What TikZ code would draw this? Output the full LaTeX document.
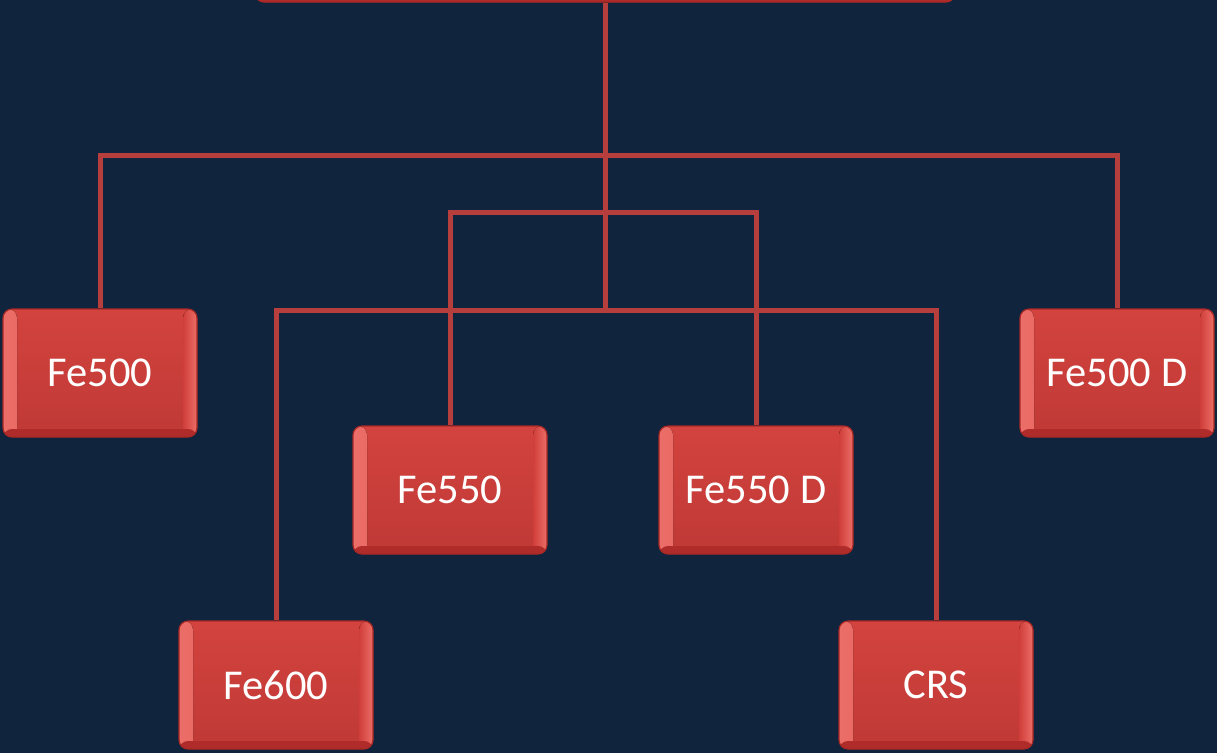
\documentclass[tikz,border=0pt]{standalone}
\usepackage{fontspec}
\setmainfont{Carlito}
\usetikzlibrary{positioning}
\definecolor{navy}{RGB}{17,36,62}
\definecolor{boxred}{RGB}{208,62,58}
\definecolor{boxlight}{RGB}{236,110,104}
\definecolor{boxdark}{RGB}{168,40,38}
\definecolor{linkred}{RGB}{182,62,60}

\begin{document}
\begin{tikzpicture}[x=1pt, y=-1pt,
  grade/.style = {draw=boxdark, line width=1.2pt, rounded corners=9pt,
    top color=boxred!90!boxlight, bottom color=boxred!92!black,
    minimum width=194pt, minimum height=128pt, inner sep=0pt,
    text=white, font=\fontsize{42.5}{50}\selectfont,
    path picture={
      \fill[left color=boxlight, right color=boxred] (path picture bounding box.north west) rectangle ([xshift=14pt]path picture bounding box.south west);
      \fill[left color=boxred, right color=boxlight] ([xshift=-14pt]path picture bounding box.north east) rectangle (path picture bounding box.south east);
      \fill[boxdark!80!boxred] ([yshift=8pt]path picture bounding box.south west) rectangle (path picture bounding box.south east);
    }},
  link/.style = {draw=linkred, line width=5pt}]

    \fill[navy] (0,0) rectangle (1217,753);
    \useasboundingbox (0,0) rectangle (1217,753);

    % boxes
    \node[grade, minimum width=700pt, minimum height=90pt] (steel) at (605,-43) {};
    \node[grade] (fe500)  at (100,373)  {Fe500};
    \node[grade] (fe500d) at (1117,373) {Fe500 D};
    \node[grade] (fe550)  at (450,490)  {Fe550};
    \node[grade] (fe550d) at (756,490)  {Fe550 D};
    \node[grade] (fe600)  at (276,685)  {Fe600};
    \node[grade] (crs)    at (936,685)  {CRS};

    % bus lines
    \coordinate (bus1) at (605,155);
    \coordinate (bus2) at (605,212);
    \coordinate (bus3) at (605,310);

    \draw[link] (steel.south) -- (bus3);
    \draw[link] (fe500.north) |- (bus1) -| (fe500d.north);
    \draw[link] (fe550.north) |- (bus2) -| (fe550d.north);
    \draw[link] (fe600.north) |- (bus3) -| (crs.north);

\end{tikzpicture}
\end{document}
